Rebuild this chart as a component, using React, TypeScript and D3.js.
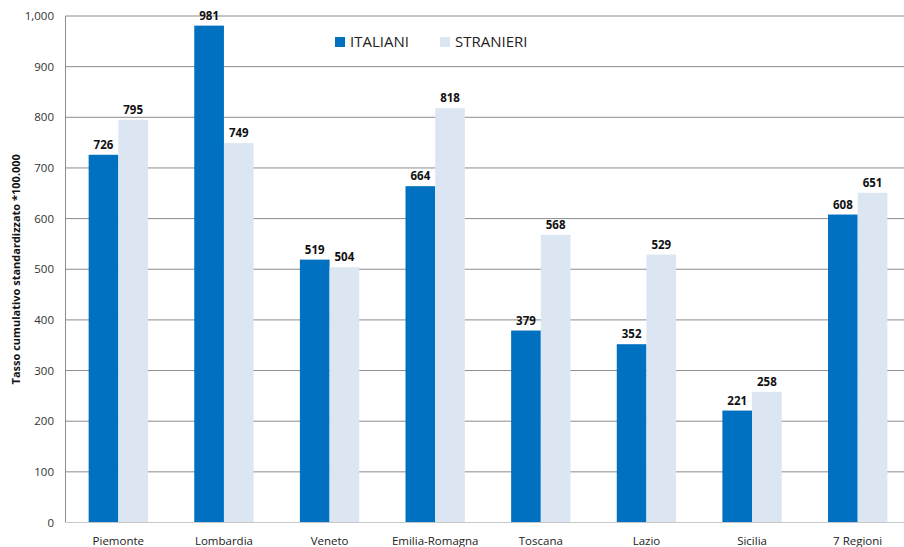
import React from "react";
import * as d3 from "d3";

const categories = ["Piemonte", "Lombardia", "Veneto", "Emilia-Romagna", "Toscana", "Lazio", "Sicilia", "7 Regioni"];
const italiani = [726, 981, 519, 664, 379, 352, 221, 608];
const stranieri = [795, 749, 504, 818, 568, 529, 258, 651];
const seriesNames = ["ITALIANI", "STRANIERI"];
const colors = ["#0070C0", "#DCE6F2"];
const yTicks = [0, 100, 200, 300, 400, 500, 600, 700, 800, 900, 1000];

export default function App() {
  const W = 904, H = 547;
  const left = 65.5, right = 910.5, top = 16, bottom = 522.5;
  const x = d3.scaleBand<string>().domain(categories).range([left, right]).paddingInner(0).paddingOuter(0);
  const inner = d3.scaleBand<string>().domain(seriesNames).range([0, x.bandwidth()]).paddingInner(0).paddingOuter(0.78);
  const y = d3.scaleLinear().domain([0, 1000]).range([bottom, top]);
  const fmt = d3.format(",");
  const data = [italiani, stranieri];
  const font = "'Open Sans', 'Noto Sans', sans-serif";
  return (
    <svg width={W} height={H} style={{ position: "absolute", left: 0, top: 0, background: "#fff" }} fontFamily={font}>
      {yTicks.map((t) => (
        <g key={t}>
          {t > 0 && <line x1={left} x2={right} y1={y(t)} y2={y(t)} stroke="#8c8c8c" strokeWidth={1} />}
          <text x={54} y={y(t)} dy="0.35em" textAnchor="end" fontSize={11.5} fill="#333">{fmt(t)}</text>
        </g>
      ))}
      <line x1={left} x2={left} y1={top} y2={bottom} stroke="#8c8c8c" />
      {categories.map((c, i) => (
        <g key={c}>
          {data.map((s, k) => {
            const bx = (x(c) as number) + (inner(seriesNames[k]) as number);
            const bw = inner.bandwidth();
            return (
              <g key={k}>
                <rect x={bx} y={y(s[i])} width={bw} height={bottom - y(s[i])} fill={colors[k]} />
                <text x={bx + bw / 2} y={y(s[i]) - 6} textAnchor="middle" fontSize={11.5} fontWeight="bold" fill="#111">{s[i]}</text>
              </g>
            );
          })}
          <text x={(x(c) as number) + x.bandwidth() / 2} y={541} dy="0.35em" textAnchor="middle" fontSize={11.5} fill="#222">{c}</text>
        </g>
      ))}
      <line x1={left} x2={right} y1={bottom} y2={bottom} stroke="#c8c8c8" />
      <text transform={`translate(20,${(top + bottom) / 2}) rotate(-90)`} textAnchor="middle" fontSize={11} fontWeight="bold" fill="#111">Tasso cumulativo standardizzato *100.000</text>
      {seriesNames.map((n, k) => {
        const lx = [335, 440][k];
        return (
          <g key={n}>
            <rect x={lx} y={37} width={10} height={10} fill={colors[k]} />
            <text x={lx + 15} y={42} dy="0.35em" fontSize={15} fill="#222">{n}</text>
          </g>
        );
      })}
    </svg>
  );
}
